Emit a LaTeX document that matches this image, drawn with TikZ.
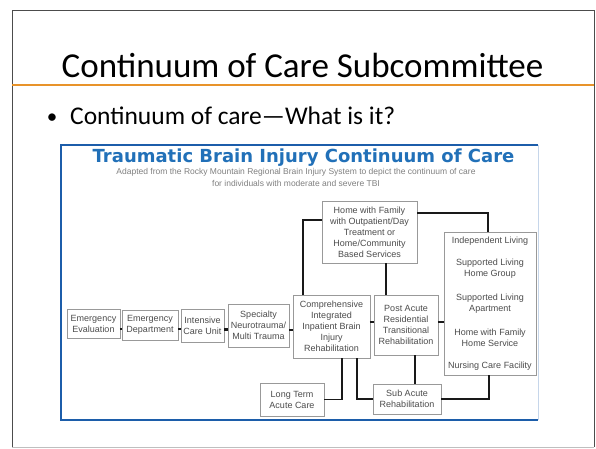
\documentclass[tikz,border=0pt]{standalone}
\usepackage{fontspec}
\setmainfont{Carlito}
\newfontfamily\boxfont{Liberation Sans}
\newfontfamily\headfont{DejaVu Sans}
\definecolor{slideorange}{HTML}{E8932A}
\definecolor{tbiblue}{HTML}{2170B8}
\definecolor{frameblue}{HTML}{1C5DAA}

\begin{document}
\begin{tikzpicture}[x=1pt, y=-1pt,
    carebox/.style = {shape=rectangle, draw=black!40, line width=0.7pt,
      fill=white, align=center, inner sep=0pt, text=black!70,
      font=\boxfont\fontsize{9}{11}\selectfont},
    link/.style = {draw=black!90, line width=1.8pt},
    tick/.style = {draw=black!90, line width=2.6pt,
      shorten <=-0.6pt, shorten >=-0.6pt}]
  \useasboundingbox (0,0) rectangle (596,449);
  \fill[white] (0,0) rectangle (596,449);
  % slide frame and title
  \draw[black!70, line width=1pt] (12,447) -- (12,11) -- (594,11) -- (594,447);
  \draw[black!25, line width=1pt] (12,447) -- (594,447);
  \draw[slideorange, line width=2.4pt] (12,85) -- (594,85);
  \node[anchor=base, inner sep=0pt, font=\fontsize{35}{40}\selectfont]
    (slidetitle) at (302.5,78) {Continuum of Care Subcommittee};
  \node[anchor=base, inner sep=0pt, font=\fontsize{21}{30}\selectfont]
    (bullet) at (52,124) {•};
  \node[anchor=base west, inner sep=0pt, font=\fontsize{25.5}{30}\selectfont]
    (point) at (70,125) {Continuum of care—What is it?};
  % the chart
  \fill[white] (61,145) rectangle (538,420);
  \draw[frameblue, line width=1.6pt] (538,145) -- (61,145) -- (61,420) -- (538,420);
  \draw[frameblue!25, line width=0.8pt] (538,145) -- (538,420);
  \node[anchor=base, inner sep=0pt, text=tbiblue,
    font=\headfont\bfseries\fontsize{18}{20}\selectfont]
    (tbititle) at (303.5,163) {Traumatic Brain Injury Continuum of Care};
  \node[anchor=base, inner sep=0pt, align=center, text=black!50,
    font=\boxfont\fontsize{8.5}{11.5}\selectfont]
    (tbinote) at (296,186) {Adapted from the Rocky Mountain Regional Brain Injury System to depict the continuum of care\\
      for individuals with moderate and severe TBI};

  \node[carebox, minimum width=53pt, minimum height=29pt] (ee) at (93.5,323.5) {Emergency\\Evaluation};
  \node[carebox, minimum width=56pt, minimum height=30pt] (ed) at (150,325) {Emergency\\Department};
  \node[carebox, minimum width=43pt, minimum height=33pt] (icu) at (202.5,325.5) {Intensive\\Care Unit};
  \node[carebox, minimum width=61pt, minimum height=43pt] (spec) at (258.5,325.5) {Specialty\\Neurotrauma/\\Multi Trauma};
  \node[carebox, minimum width=77pt, minimum height=63pt] (comp) at (331.5,326.5)
    {Comprehensive\\Integrated\\Inpatient Brain\\Injury\\Rehabilitation};
  \node[carebox, minimum width=64pt, minimum height=60pt] (post) at (406,325)
    {Post Acute\\Residential\\Transitional\\Rehabilitation};
  \node[carebox, minimum width=95pt, minimum height=62pt] (home) at (369.5,232)
    {Home with Family\\with Outpatient/Day\\Treatment or\\Home/Community\\Based Services};
  \node[carebox, minimum width=92pt, minimum height=143pt] (list) at (490,303.5)
    {Independent Living\\[11pt]Supported Living\\Home Group\\[13pt]Supported Living\\Apartment\\[13pt]Home with Family\\Home Service\\[11pt]Nursing Care Facility};
  \node[carebox, minimum width=64pt, minimum height=33pt] (ltac) at (292,399.5) {Long Term\\Acute Care};
  \node[carebox, minimum width=68pt, minimum height=30pt] (sub) at (407,399) {Sub Acute\\Rehabilitation};

  % short links along the row
  \foreach \a/\b/\dy in {ee/ed/-5.5, ed/icu/-4, icu/spec/-4, spec/comp/-4.5, comp/post/4.5, post/list/3}
    \draw[tick] ([yshift=\dy pt]\a.east) -- ([yshift=\dy pt]\a.east -| \b.west);

  \draw[link] ([yshift=12pt]home.west) -| ([xshift=-28.5pt]comp.north);
  \draw[link] ([yshift=19pt]home.east) -| ([xshift=-2pt]list.north);
  \draw[link] ([xshift=16.5pt]home.south) -- ([xshift=16.5pt]home.south |- post.north);
  \draw[link] ([xshift=10.5pt]comp.south) |- (ltac.east);
  \draw[link] ([xshift=25.5pt]comp.south) |- (sub.west);
  \draw[link] ([xshift=9pt]post.south) -- ([xshift=9pt]post.south |- sub.north);
  \draw[link] (sub.east) -| ([xshift=-1pt]list.south);
\end{tikzpicture}
\end{document}
